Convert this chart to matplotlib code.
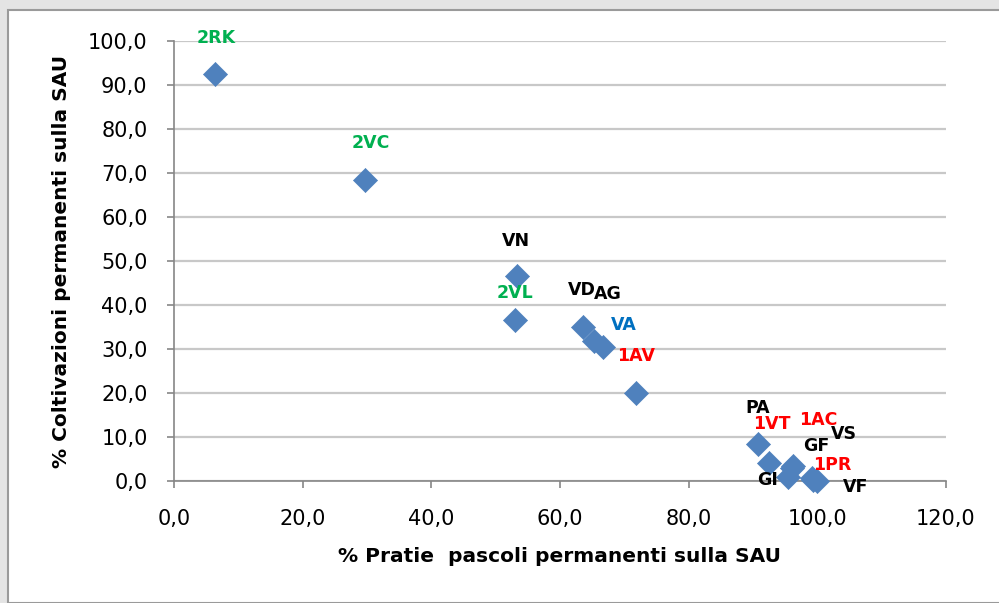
import matplotlib.pyplot as plt
from matplotlib.patches import Rectangle

# data
labels = ['2RK', '2VC', 'VN', '2VL', 'VD', 'AG', 'VA', '1AV',
          'PA', '1VT', '1AC', 'VS', 'GF', 'GI', '1PR', 'VF']
pratie = [6.4, 29.7, 53.3, 53.0, 63.6, 65.3, 66.7, 71.8,
          90.8, 92.5, 96.0, 99.2, 96.2, 95.4, 99.3, 99.9]
coltiv = [92.5, 68.4, 46.6, 36.6, 35.0, 31.8, 30.5, 20.0,
          8.3, 4.0, 3.0, 0.6, 3.3, 0.9, 0.3, 0.0]
label_colors = ['#00B050', '#00B050', 'black', '#00B050', 'black', 'black', '#0070C0', '#FF0000',
                'black', '#FF0000', '#FF0000', 'black', 'black', 'black', '#FF0000', 'black']
# where each label sits (data coords)
label_pos = [(6.5, 100.7), (30.6, 76.8), (53.1, 54.5), (53.0, 42.7), (63.4, 43.4), (67.5, 42.5),
             (69.9, 35.5), (71.8, 28.4), (90.8, 16.6), (92.9, 13.0), (100.1, 13.9), (104.1, 10.7),
             (99.9, 8.0), (92.2, 0.2), (102.3, 3.6), (105.9, -1.4)]

plt.rcParams['font.family'] = ['DejaVu Sans']

fig = plt.figure(figsize=(9.99, 6.03), dpi=100)
fig.patch.set_facecolor('#e4e4e4')
# white chart panel
fig.patches.append(Rectangle((8/999, 0), 1, 1 - 10/603, transform=fig.transFigure,
                             facecolor='white', edgecolor='#9a9a9a', linewidth=1.5, zorder=-10))

ax = fig.add_axes([174/999, 1 - 481/603, (946-174)/999, (481-41)/603])
ax.set_facecolor('none')
ax.scatter(pratie, coltiv, marker='D', s=150, color='#4F81BD', edgecolors='#4F81BD',
           linewidths=0.5, zorder=3, clip_on=False)

for lab, (lx, ly), c in zip(labels, label_pos, label_colors):
    ax.text(lx, ly, lab, color=c, fontsize=12.5, fontweight='bold',
            ha='center', va='center', zorder=4)

ax.set_xlim(0, 120)
ax.set_ylim(0, 100)
ax.set_xticks(range(0, 121, 20))
ax.set_yticks(range(0, 101, 10))
ax.set_xticklabels([f'{v},0' for v in range(0, 121, 20)])
ax.set_yticklabels([f'{v},0' for v in range(0, 101, 10)])
ax.tick_params(labelsize=15, length=5, width=1.2, color='#868686', direction='out')
ax.tick_params(axis='y', pad=14)
ax.tick_params(axis='x', pad=15)
ax.grid(axis='y', color='#c8c8c8', linewidth=1.6, zorder=0)
ax.set_axisbelow(True)
for s in ['top', 'right']:
    ax.spines[s].set_visible(False)
for s in ['left', 'bottom']:
    ax.spines[s].set_color('#868686')
    ax.spines[s].set_linewidth(1.2)

ax.set_xlabel('% Pratie  pascoli permanenti sulla SAU', fontsize=14.5, fontweight='bold', labelpad=13)
ax.set_ylabel('% Coltivazioni permanenti sulla SAU', fontsize=14.5, fontweight='bold', labelpad=12)

fig.savefig('out.png', dpi=100, facecolor=fig.get_facecolor())
